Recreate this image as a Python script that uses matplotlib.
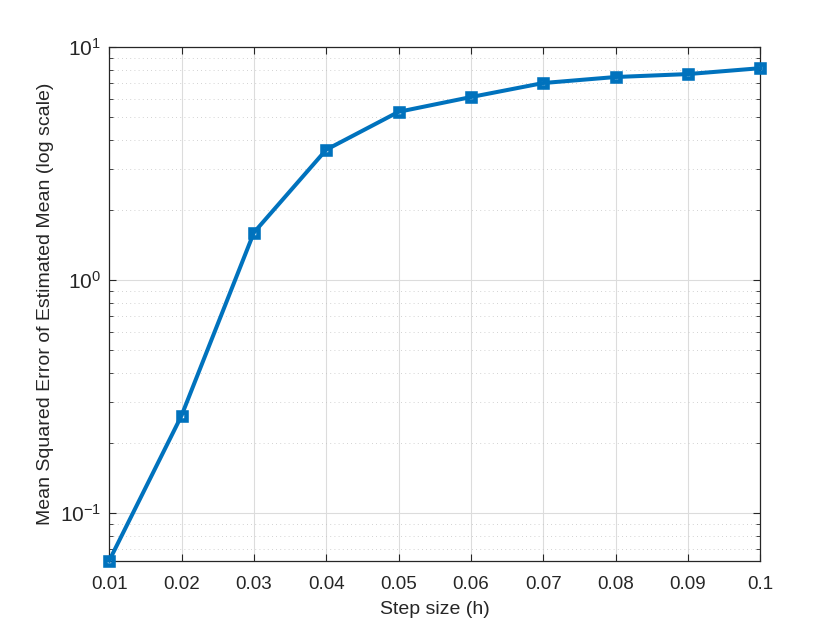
import matplotlib
matplotlib.use('Agg')
import matplotlib.pyplot as plt
import numpy as np
from matplotlib.ticker import LogLocator, FixedLocator, NullFormatter

# Data
step_size = [0.01, 0.02, 0.03, 0.04, 0.05, 0.06, 0.07, 0.08, 0.09, 0.10]
mse_mean = [0.0624, 0.262, 1.60, 3.63, 5.28, 6.11, 7.02, 7.45, 7.67, 8.13]
x_ticks = [0.01, 0.02, 0.03, 0.04, 0.05, 0.06, 0.07, 0.08, 0.09, 0.1]
x_tick_labels = ['0.01', '0.02', '0.03', '0.04', '0.05', '0.06', '0.07', '0.08', '0.09', '0.1']
y_ticks = [0.1, 1, 10]
y_tick_labels = [r'$10^{-1}$', r'$10^{0}$', r'$10^{1}$']

plt.rcParams['font.family'] = ['Liberation Sans', 'DejaVu Sans']
plt.rcParams['mathtext.fontset'] = 'custom'
plt.rcParams['mathtext.rm'] = 'Liberation Sans'
plt.rcParams['mathtext.it'] = 'Liberation Sans:italic'
plt.rcParams['mathtext.default'] = 'rm'

fig = plt.figure(figsize=(8.4, 6.3), dpi=100)
ax = fig.add_axes([0.13, 0.11, 0.775, 0.815])

ax.plot(step_size, mse_mean, '-s', color='#0072BD', linewidth=2.9,
        markersize=6, markerfacecolor='none', markeredgewidth=3.3, clip_on=False, zorder=3)

ax.set_yscale('log')
ax.set_xlim(0.01, 0.1)
ax.set_ylim(0.0624, 10)
ax.set_xticks(x_ticks)
ax.set_xticklabels(x_tick_labels)
ax.yaxis.set_major_locator(FixedLocator(y_ticks))
ax.set_yticklabels(y_tick_labels)
ax.yaxis.set_minor_locator(LogLocator(base=10, subs=np.arange(2, 10)))
ax.yaxis.set_minor_formatter(NullFormatter())

# MATLAB-style grid and box
ax.grid(True, which='major', color='#dcdcdc', linewidth=0.8, linestyle='-')
ax.grid(True, which='minor', axis='y', color='#c4c4c4', linewidth=0.6, linestyle=(0, (1, 4)))
ax.set_axisbelow(True)
ax.tick_params(which='both', direction='in', top=True, right=True, labelsize=13.5, colors='#262626')
ax.tick_params(which='major', length=5, width=0.8)
ax.tick_params(which='minor', length=3, width=0.6)
ax.tick_params(axis='x', pad=11)
ax.tick_params(axis='y', pad=6, labelsize=15)
for s in ax.spines.values():
    s.set_color('#262626')
    s.set_linewidth(0.9)

ax.set_xlabel('Step size (h)', fontsize=14, color='#262626', labelpad=6)
ax.set_ylabel('Mean Squared Error of Estimated Mean (log scale)', fontsize=14, color='#262626', labelpad=4)

fig.savefig('out.png', dpi=100)
